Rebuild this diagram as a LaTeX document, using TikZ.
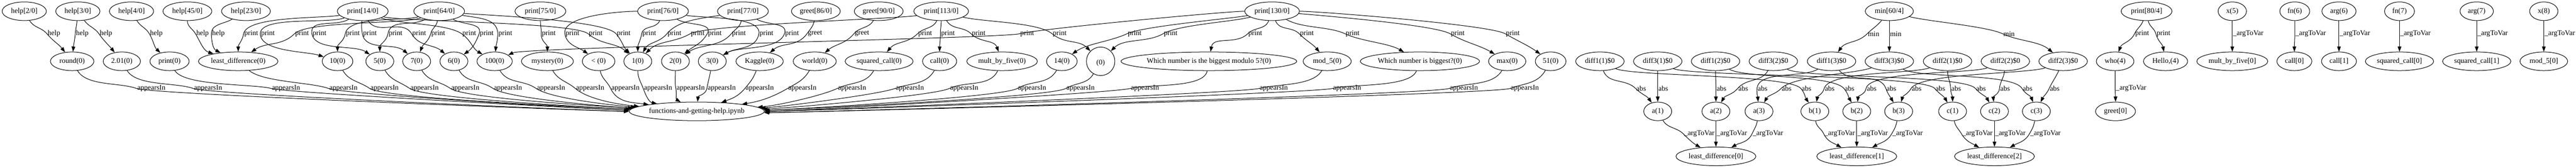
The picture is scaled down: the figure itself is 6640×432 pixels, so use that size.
\documentclass[tikz,border=0pt]{standalone}
\usepackage{fontspec}
\setmainfont{Liberation Serif}
\usetikzlibrary{shapes.geometric, arrows.meta}

\newcommand\gvfont{\fontsize{7}{8}\selectfont}
\tikzset{
    gv/.style={draw, ellipse, line width=0.5pt, inner sep=0pt, minimum height=18pt, font=\gvfont},
    mw/.style={minimum width=#1*0.375pt},
    e/.style={line width=0.5pt, -{Triangle[length=5pt, width=3.5pt]}, max distance=17.5pt},
    lbl/.style={anchor=west, inner sep=0.5pt, font=\gvfont}
}

\begin{document}
\begin{tikzpicture}[x=0.375pt, y=0.375pt]
    \useasboundingbox (0,0) rectangle (6640,-432);
    % calls
    \foreach \n/\x/\w/\t in {h2/62.5/114/{help[2/0]}, h3/200.7/114/{help[3/0]}, h4/339/114/{help[4/0]},
        h45/483/126/{help[45/0]}, h23/634/126/{help[23/0]}, p14/935/131/{print[14/0]}, p64/1132/131/{print[64/0]},
        p75/1393/131/{print[75/0]}, p76/1709/131/{print[76/0]}, p77/1915/131/{print[77/0]}, g86/2103/126/{greet[86/0]},
        g90/2265/126/{greet[90/0]}, p113/2426/141/{print[113/0]}, p130/3279/141/{print[130/0]}, mn60/4870/124/{min[60/4]},
        p80/5533/131/{print[80/4]}, x5/5754/73/x(5), fn6/5915/77/fn(6), arg6/6029/88/arg(6), fn7/6185/77/fn(7),
        arg7/6384/86/arg(7), x8/6557/73/x(8)}
        \node[gv, mw=\w] (\n) at (\x,-29) {\t};
    % values
    \foreach \n/\x/\w/\t in {round/186/112/round(0), v201/314/96/2.01(0), pr/437/101/print(0),
        ld/614/205/{least\_difference(0)}, n10/870/79/10(0), n5/979/72/5(0), n7/1074/72/7(0), n6/1170/72/6(0),
        n100/1275/91/100(0), myst/1411/134/mystery(0), lt/1543/84/{< (0)}, n1/1644/72/1(0), n2/1741/72/2(0),
        n3/1836/72/3(0), kag/1958/122/Kaggle(0), world/2100/111/world(0), sqc/2266/175/{squared\_call(0)},
        cll/2422/88/call(0), mbf/2583/182/{mult\_by\_five(0)}, n14/2737/79/14(0),
        qmod/3116/438/{Which number is the biggest modulo 5?(0)}, md5/3421/124/{mod\_5(0)},
        qbig/3660/306/{Which number is biggest?(0)}, mx/3885/96/max(0), n51/3997/79/51(0),
        who/5452/97/who(4), hel/5582/114/{Hello,(4)}, mbf0/5754/183/{mult\_by\_five[0]}, call0/5914/90/{call[0]},
        call1/6029/90/{call[1]}, sqc0/6185/176/{squared\_call[0]}, sqc1/6384/176/{squared\_call[1]},
        md50/6557/123/{mod\_5[0]}}
        \node[gv, mw=\w] (\n) at (\x,-158) {\t};
    \node[draw, circle, line width=0.5pt, inner sep=0pt, minimum size=27.5pt, align=center, font=\gvfont]
        (nl) at (2837,-158) {\mbox{}\\(0)};
    \foreach \n/\x/\t in {d11/4124/diff1(1), d31/4273/diff3(1), d12/4422/diff1(2), d32/4571/diff3(2),
        d13/4721/diff1(3), d33/4870/diff3(3), d21/5020/diff2(1), d22/5169/diff2(2), d23/5318/diff2(3)}
        \node[gv, mw=125] (\n) at (\x,-158) {\t\$0};
    % third and fourth rank
    \node[gv, mw=339] (nb) at (1796,-287) {functions-and-getting-help.ipynb};
    \foreach \n/\x/\t in {a1/4273/a(1), a2/4423/a(2), a3/4534/a(3), b1/4678/b(1), b2/4786/b(2),
        b3/4894/b(3), c1/5033/c(1), c2/5141/c(2), c3/5249/c(3)}
        \node[gv, mw=72] (\n) at (\x,-287) {\t};
    \node[gv, mw=103] (greet0) at (5453,-287) {greet[0]};
    \foreach \k/\x in {0/4423, 1/4786, 2/5141}
        \node[gv, mw=206] (ld\k) at (\x,-403) {least\_difference[\k]};

    % from/to/label x/out/direction at label/in
    \foreach \s/\t/\x/\o/\d/\i/\l in {h2/round/121/-60/-50/128/help, h3/round/194/-95/-95/85/help,
        h3/v201/255/-55/-55/129/help, h4/pr/385/-60/-60/137/help, h45/ld/504/-90/-60/163/help,
        h23/ld/545/-150/-90/154/help,
        p14/ld/628/-170/-100/90/print, p14/n10/671/-160/-90/162/print, p14/n5/804/-150/-80/146/print,
        p14/n7/934/-95/-80/140/print, p14/n6/1061/-60/-60/140/print, p14/n100/1190/-20/-35/150/print,
        p14/n1/1516/-15/-40/140/print,
        p64/ld/759/-160/-135/35/print, p64/n10/890/-165/-100/90/print, p64/n5/1000/-150/-100/90/print,
        p64/n7/1110/-100/-105/70/print, p64/n6/1235/-30/-110/35/print, p64/n100/1283/-10/-90/85/print,
        p64/n1/1588/-5/-50/135/print,
        p75/myst/1395/-90/-93/90/print, p76/lt/1456/180/-80/145/print, p76/n1/1654/-110/-100/90/print,
        p77/n1/1719/-170/-130/60/print, p113/n1/1779/-170/-150/45/print, p76/n2/1823/-30/-120/40/print,
        p77/n2/1885/-100/-130/35/print, p76/n3/1956/-10/-100/30/print, p77/n3/2022/-30/-110/30/print,
        g86/kag/2080/-100/-125/40/greet, g90/world/2201/-120/-130/40/greet,
        p113/sqc/2365/-115/-135/50/print, p113/cll/2424/-90/-90/90/print, p113/mbf/2503/-60/-45/110/print,
        p113/nl/2712/-15/-40/135/print,
        p130/n100/2628/180/-165/25/print, p130/n14/2905/-170/-155/35/print, p130/nl/2998/-165/-150/45/print,
        p130/qmod/3216/-110/-135/80/print, p130/md5/3349/-70/-45/130/print, p130/qbig/3467/-30/-25/150/print,
        p130/mx/3738/-5/-30/150/print, p130/n51/3880/0/-30/145/print,
        mn60/d13/4813/-130/-135/55/min, mn60/d33/4870/-90/-90/90/min, mn60/d23/5162/-15/-25/140/min,
        p80/who/5502/-110/-115/70/print, p80/hel/5557/-80/-75/100/print,
        x5/mbf0/5754/-90/-90/90/\_argToVar, fn6/call0/5915/-90/-90/90/\_argToVar,
        arg6/call1/6029/-90/-90/90/\_argToVar, fn7/sqc0/6185/-90/-90/90/\_argToVar,
        arg7/sqc1/6384/-90/-90/90/\_argToVar, x8/md50/6557/-90/-90/90/\_argToVar}{
        \pgfmathtruncatemacro\r{\d+180}
        \draw[e] (\s) to[out=\o, in=\r] (\x,-87) node[lbl] {\l} to[out=\d, in=\i] (\t);
    }
    \foreach \s/\t/\x/\o/\d/\i/\l in {d11/a1/4216/-70/-45/125/abs, d31/a1/4273/-90/-90/90/abs,
        d11/b1/4642/-25/-50/125/abs, d31/c1/4987/-25/-50/120/abs, d12/a2/4423/-90/-90/90/abs,
        d32/a2/4479/-120/-130/60/abs, d12/b2/4753/-30/-50/120/abs, d32/c2/5092/-30/-50/120/abs,
        d13/a3/4529/-150/-95/95/abs, d33/a3/4591/-160/-135/60/abs, d13/b3/4861/-50/-70/120/abs,
        d21/b1/4702/-160/-105/80/abs, d22/b2/4810/-160/-100/85/abs, d23/b3/4926/-160/-120/75/abs,
        d21/c1/5028/-90/-88/90/abs, d22/c2/5154/-95/-95/95/abs, d23/c3/5282/-115/-115/65/abs,
        d33/c3/5212/-30/-60/110/abs, who/greet0/5452/-90/-90/90/\_argToVar}{
        \pgfmathtruncatemacro\r{\d+180}
        \draw[e] (\s) to[out=\o, in=\r] (\x,-228) node[lbl] {\l} to[out=\d, in=\i] (\t);
    }
    % everything appears in the notebook
    \foreach \s/\x/\o/\d/\i in {round/352/-60/-20/180, v201/498/-60/-20/180, pr/699/-60/-15/179,
        ld/847/-40/-20/179, n10/953/-60/-35/178, n5/1056/-60/-35/178, n7/1161/-60/-35/177,
        n6/1271/-60/-35/177, n100/1382/-60/-35/176, myst/1483/-60/-40/175, lt/1574/-80/-65/172,
        n1/1658/-90/-70/169, n2/1742/-90/-80/150, n3/1822/-100/-100/85, kag/1920/-110/-130/20,
        world/2030/-120/-150/9, sqc/2158/-120/-155/4, cll/2307/-120/-160/3, mbf/2447/-115/-155/2,
        n14/2622/-120/-150/1, nl/2747/-120/-150/1, qmod/2913/-100/-165/0, md5/3245/-120/-165/0,
        qbig/3434/-110/-165/0, mx/3735/-120/-160/-1, n51/3892/-120/-160/-1}{
        \pgfmathtruncatemacro\r{\d+180}
        \draw[e] (\s) to[out=\o, in=\r] (\x,-228) node[lbl] {appearsIn} to[out=\d, in=\i] (nb);
    }
    \foreach \s/\t/\x/\o/\d/\i in {a1/ld0/4339/-60/-45/150, a2/ld0/4423/-90/-90/90, a3/ld0/4516/-100/-115/30,
        b1/ld1/4701/-85/-65/150, b2/ld1/4786/-90/-90/90, b3/ld1/4876/-100/-120/30,
        c1/ld2/5056/-80/-60/150, c2/ld2/5141/-90/-90/90, c3/ld2/5231/-100/-120/30}{
        \pgfmathtruncatemacro\r{\d+180}
        \draw[e] (\s) to[out=\o, in=\r] (\x,-345) node[lbl] {\_argToVar} to[out=\d, in=\i] (\t);
    }
\end{tikzpicture}
\end{document}
